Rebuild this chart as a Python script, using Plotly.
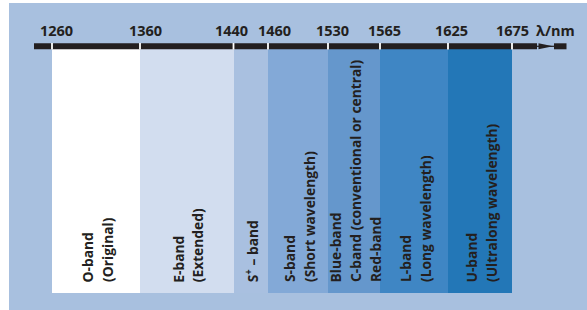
import plotly.graph_objects as go

# ---- data ----
band_names = ["O", "E", "S+", "S", "C", "L", "U"]
band_lines = [
    ["O-band", "(Original)"],
    ["E-band", "(Extended)"],
    ["S<sup>+</sup> – band"],
    ["S-band", "(Short wavelength)"],
    ["Blue-band", "C-band (conventional or central)", "Red-band"],
    ["L-band", "(Long wavelength)"],
    ["U-band", "(Ultralong wavelength)"],
]
edge_wavelengths = [1260, 1360, 1440, 1460, 1530, 1565, 1625, 1675]
tick_labels = [str(w) for w in edge_wavelengths]
unit_label = "λ/nm"

# ---- layout (schematic, not to scale) ----
edge_pos = [52, 140, 233.5, 268, 328, 380, 448, 512]
label_shift = [4, 5, -2, 6, 4, 4, 3, 0]
band_colors = ["#ffffff", "#d2ddef", "#a9c0e0", "#83a9d7", "#6597cc", "#3f86c4", "#2377b7"]
bg_color = "#a8c0df"
ink = "#231f20"
font_family = "Open Sans, Noto Sans, sans-serif"
band_top, band_bottom = 49, 292.5
text_base = 284.5
line_gap = 20

centers = [(a + b) / 2 for a, b in zip(edge_pos[:-1], edge_pos[1:])]
widths = [b - a for a, b in zip(edge_pos[:-1], edge_pos[1:])]

fig = go.Figure()
fig.add_trace(go.Bar(
    x=centers, width=widths,
    base=[band_top] * len(centers),
    y=[band_bottom - band_top] * len(centers),
    marker=dict(color=band_colors, line=dict(width=0)),
    hoverinfo="skip", showlegend=False,
))

shapes = [
    dict(type="rect", xref="x", yref="y", x0=9, x1=590, y0=3, y1=312,
         fillcolor=bg_color, line=dict(width=0), layer="below"),
    # axis bar
    dict(type="rect", xref="x", yref="y", x0=34, x1=537, y0=43.3, y1=49.3,
         fillcolor=ink, line=dict(width=0), layer="above"),
    dict(type="rect", xref="x", yref="y", x0=554, x1=566.5, y0=43.3, y1=49.3,
         fillcolor=ink, line=dict(width=0), layer="above"),
    dict(type="line", xref="x", yref="y", x0=537, x1=554, y0=46.3, y1=46.3,
         line=dict(color=ink, width=1.2), layer="above"),
    dict(type="path", xref="x", yref="y", path="M 538.5 43.3 L 553 46.3 L 538.5 49.3 Z",
         fillcolor=ink, line=dict(width=0), layer="above"),
]
# white tick gaps in the axis bar
for p in edge_pos:
    shapes.append(dict(type="rect", xref="x", yref="y", x0=p - 0.9, x1=p + 0.9,
                       y0=43, y1=49.6, fillcolor="#ffffff", line=dict(width=0), layer="above"))

annotations = []
for p, lab, s in zip(edge_pos, tick_labels, label_shift):
    annotations.append(dict(x=p, y=30, xref="x", yref="y", text=f"<b>{lab}</b>",
                            showarrow=False, xshift=s, xanchor="center", yanchor="middle",
                            font=dict(family=font_family, size=14.5, color=ink)))
annotations.append(dict(x=555, y=30, xref="x", yref="y", text=f"<b>{unit_label}</b>",
                        showarrow=False, xanchor="center", yanchor="middle",
                        font=dict(family=font_family, size=14.5, color=ink)))

for c, lines in zip(centers, band_lines):
    n = len(lines)
    for i, t in enumerate(lines):
        off = (i - (n - 1) / 2) * line_gap
        annotations.append(dict(x=c + off + 1, y=text_base, xref="x", yref="y",
                                text=f"<b>{t}</b>", textangle=-90, showarrow=False,
                                xanchor="center", yanchor="bottom",
                                font=dict(family=font_family, size=13.8, color=ink)))

fig.update_layout(
    width=587, height=310,
    margin=dict(l=0, r=0, t=0, b=0),
    paper_bgcolor="#ffffff", plot_bgcolor="#ffffff",
    xaxis=dict(range=[0, 587], visible=False, fixedrange=True),
    yaxis=dict(range=[310, 0], visible=False, fixedrange=True),
    shapes=shapes, annotations=annotations,
    bargap=0,
)
fig.write_html("out.html", config=dict(displayModeBar=False),
               post_script="document.body.style.margin='0';document.body.style.overflow='hidden';")
